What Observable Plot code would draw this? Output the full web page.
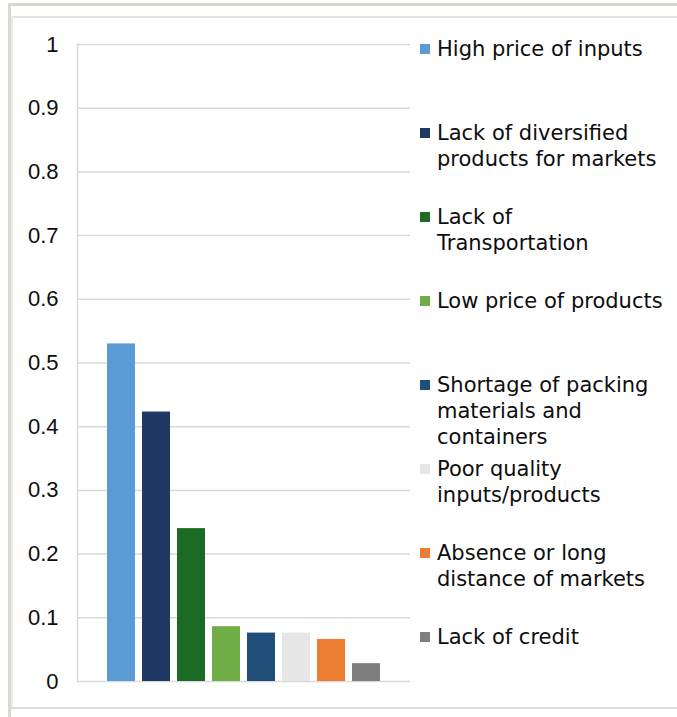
<!DOCTYPE html>
<html>
<head>
<meta charset="utf-8">
<script src="https://cdn.jsdelivr.net/npm/d3@7"></script>
<script src="https://cdn.jsdelivr.net/npm/@observablehq/plot@0.6"></script>
<style>
  html, body { margin: 0; padding: 0; background: #fff; }
  #wrap { position: relative; width: 677px; height: 717px; overflow: hidden; background: #fff; }
  .deco { position: absolute; }
  .legend-item { position: absolute; left: 420px; font-family: "DejaVu Sans", Verdana, sans-serif; font-size: 21px; line-height: 26px; color: #0d0d0d; }
  .legend-item .sw { position: absolute; left: 0; top: 8px; width: 10px; height: 10px; }
  .legend-item .tx { position: absolute; left: 17px; top: 0; white-space: pre; }
  #wrap svg g[aria-label="y-axis tick label"] text { font-size: 22px !important; }
</style>
</head>
<body>
<div id="wrap"></div>
<script>
const categories = [
  "High price of inputs",
  "Lack of diversified products for markets",
  "Lack of Transportation",
  "Low price of products",
  "Shortage of packing materials and containers",
  "Poor quality inputs/products",
  "Absence or long distance of markets",
  "Lack of credit"
];
const legendLines = [
  ["High price of inputs"],
  ["Lack of diversified", "products for markets"],
  ["Lack of", "Transportation"],
  ["Low price of products"],
  ["Shortage of packing", "materials and", "containers"],
  ["Poor quality", "inputs/products"],
  ["Absence or long", "distance of markets"],
  ["Lack of credit"]
];
const values = [0.53, 0.423, 0.24, 0.086, 0.076, 0.076, 0.066, 0.028];
const colors = ["#5b9bd5", "#203864", "#1b6b24", "#70ad47", "#1f4e79", "#e7e6e6", "#ed7d31", "#7f7f7f"];
const yTicks = [0, 0.1, 0.2, 0.3, 0.4, 0.5, 0.6, 0.7, 0.8, 0.9, 1];

const data = categories.map((c, i) => ({cat: c, value: values[i]}));

const chart = Plot.plot({
  width: 677,
  height: 717,
  marginLeft: 77,
  marginRight: 267,
  marginTop: 44,
  marginBottom: 36,
  style: {fontFamily: "'Liberation Sans', Arial, sans-serif", fontSize: "22px", background: "transparent", color: "#0d0d0d"},
  x: {domain: categories, paddingInner: 0.2, paddingOuter: 0.85, axis: null},
  y: {domain: [0, 1]},
  color: {domain: categories, range: colors},
  marks: [
    Plot.gridY(yTicks, {stroke: "#d9d9d9", strokeOpacity: 1, strokeWidth: 1.5}),
    Plot.frame({anchor: "left", stroke: "#d9d9d9", strokeWidth: 1.5}),
    Plot.barY(data, {x: "cat", y: "value", fill: "cat"}),
    Plot.axisY(yTicks, {tickSize: 0, tickPadding: 19, tickFormat: d => String(d), fontSize: 22, label: null})
  ]
});

const wrap = document.getElementById("wrap");
chart.style.position = "absolute";
chart.style.left = "0px";
chart.style.top = "0px";
wrap.appendChild(chart);

// frame decoration
function deco(l, t, w, h, bg) {
  const d = document.createElement("div");
  d.className = "deco";
  Object.assign(d.style, {left: l + "px", top: t + "px", width: w + "px", height: h + "px", background: bg});
  wrap.appendChild(d);
}
deco(8, 3, 669, 3, "#d8d5ce");
deco(8, 3, 3, 714, "#dcd9d2");
deco(11, 16, 666, 1.5, "#e3e3e3");
deco(11, 16, 1.5, 692, "#ececec");
deco(11, 707, 666, 2, "#dcdcdc");

// legend
legendLines.forEach((lines, i) => {
  const item = document.createElement("div");
  item.className = "legend-item";
  item.style.top = (36 + i * 84) + "px";
  const sw = document.createElement("div");
  sw.className = "sw";
  sw.style.background = colors[i];
  const tx = document.createElement("div");
  tx.className = "tx";
  tx.textContent = lines.join("\n");
  item.appendChild(sw);
  item.appendChild(tx);
  wrap.appendChild(item);
});
</script>
</body>
</html>
